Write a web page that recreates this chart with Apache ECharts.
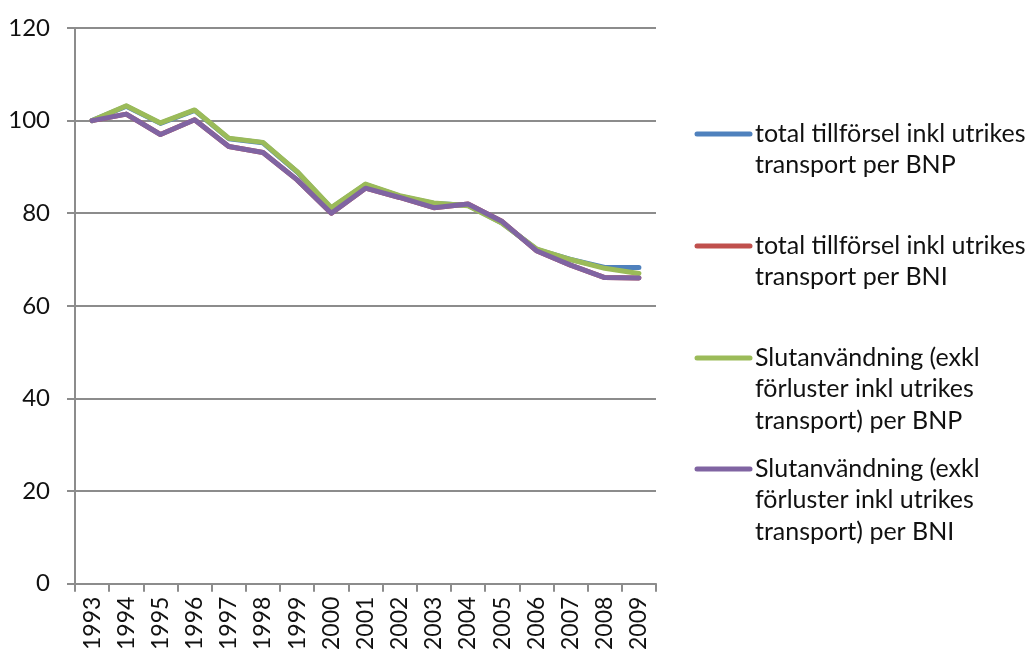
<!DOCTYPE html>
<html>
<head>
<meta charset="utf-8">
<script src="https://cdn.jsdelivr.net/npm/echarts@6/dist/echarts.min.js"></script>
<style>
  html, body { margin: 0; padding: 0; background: #fff; }
  #chart { width: 1025px; height: 653px; }
</style>
</head>
<body>
<div id="chart"></div>
<script>
const years = ['1993','1994','1995','1996','1997','1998','1999','2000','2001',
               '2002','2003','2004','2005','2006','2007','2008','2009']

const seriesNames = [
  'total tillförsel inkl utrikes\ntransport per BNP',
  'total tillförsel inkl utrikes\ntransport per BNI',
  'Slutanvändning (exkl\nförluster inkl utrikes\ntransport) per BNP',
  'Slutanvändning (exkl\nförluster inkl utrikes\ntransport) per BNI',
]
const colors = ['#4F81BD', '#C0504D', '#9BBB59', '#8064A2']

const totBNP  = [100, 103.1, 99.4, 102.2, 96.1, 95.2, 88.9, 81.1, 86.2, 83.7, 82.1, 81.7, 77.9, 72.2, 70.0, 68.3, 68.3]
const totBNI  = [100, 101.4, 97.0, 100.2, 94.4, 93.1, 87.2, 80.0, 85.4, 83.4, 81.2, 82.0, 78.2, 71.9, 68.8, 66.1, 66.0]
const slutBNP = [100, 103.2, 99.5, 102.3, 96.2, 95.3, 89.0, 81.2, 86.3, 83.8, 82.2, 81.6, 77.8, 72.3, 70.0, 68.1, 67.0]
const slutBNI = [100, 101.4, 97.0, 100.2, 94.4, 93.1, 87.2, 80.0, 85.4, 83.4, 81.2, 82.0, 78.2, 71.9, 68.8, 66.1, 66.0]
const values = [totBNP, totBNI, slutBNP, slutBNI]

const FONT = 'Lato'

// legend drawn by hand so the key line sits on the first text line
const legendTops = [134, 246, 358, 469]
const legendGraphics = []
seriesNames.forEach((name, i) => {
  legendGraphics.push({
    type: 'line',
    shape: { x1: 697, y1: legendTops[i], x2: 750, y2: legendTops[i] },
    style: { stroke: colors[i], lineWidth: 5, lineCap: 'round' },
  })
  legendGraphics.push({
    type: 'text',
    x: 755, y: legendTops[i] - 16,
    style: {
      text: name, fill: '#111', font: `25px ${FONT}`,
      lineHeight: 31.5, verticalAlign: 'top',
    },
  })
})

const chart = echarts.init(document.getElementById('chart'))
chart.setOption({
  backgroundColor: '#fff',
  animation: false,
  grid: { left: 75, right: 369, top: 28, bottom: 69 },
  xAxis: {
    type: 'category',
    data: years,
    boundaryGap: true,
    axisLine:  { lineStyle: { color: '#8c8c8c', width: 2 } },
    axisTick:  { show: true, length: 8, lineStyle: { color: '#8c8c8c', width: 2 } },
    axisLabel: { rotate: 90, margin: 13, fontSize: 23, fontFamily: FONT, color: '#111', interval: 0 },
    splitLine: { show: false },
  },
  yAxis: {
    type: 'value',
    min: 0, max: 120, interval: 20,
    axisLine:  { show: true, lineStyle: { color: '#8c8c8c', width: 2 } },
    axisTick:  { show: true, length: 8, lineStyle: { color: '#8c8c8c', width: 2 } },
    axisLabel: { fontSize: 24, fontFamily: FONT, color: '#111', margin: 25 },
    splitLine: { lineStyle: { color: '#8c8c8c', width: 2 } },
  },
  series: values.map((v, i) => ({
    type: 'line',
    name: seriesNames[i],
    data: v,
    symbol: 'none',
    lineStyle: { color: colors[i], width: 5, cap: 'round', join: 'round' },
    itemStyle: { color: colors[i] },
    z: 2 + i,
  })),
  graphic: legendGraphics,
})
</script>
</body>
</html>
